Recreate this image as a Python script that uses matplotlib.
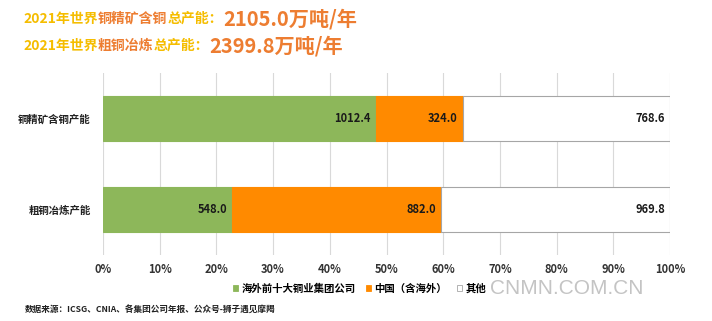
import numpy as np
import matplotlib.pyplot as plt
from matplotlib.patches import Patch

plt.rcParams['font.family'] = ['Noto Sans CJK SC', 'DejaVu Sans']

# dados
categorias = ['铜精矿含铜产能', '粗铜冶炼产能']
series = ['海外前十大铜业集团公司', '中国（含海外）', '其他']
海外 = [1012.4, 548.0]
中国 = [324.0, 882.0]
其他 = [768.6, 969.8]
cores = ['#8DB75A', '#FF8A00', '#FFFFFF']
ticks_x = [0, 10, 20, 30, 40, 50, 60, 70, 80, 90, 100]

valores = np.array([海外, 中国, 其他])
totais = valores.sum(axis=0)
pct = valores / totais * 100

fig = plt.figure(figsize=(7.12, 3.21), dpi=100)
ax = fig.add_axes([0.1447, 0.2056, 0.7963, 0.567])

y = np.arange(len(categorias))
esquerda = np.zeros(len(categorias))
for i in range(len(series)):
    ax.barh(y, pct[i], left=esquerda, height=0.5, color=cores[i],
            edgecolor='#A6A6A6' if i == 2 else cores[i], linewidth=0.8, zorder=3)
    for j in range(len(categorias)):
        ax.text(esquerda[j] + pct[i][j] - 0.9, y[j], f'{valores[i][j]:.1f}',
                ha='right', va='center', fontsize=8, fontweight='bold',
                color='#1A1A1A', zorder=4)
    esquerda += pct[i]

ax.set_xlim(0, 100)
ax.set_ylim(1.5, -0.5)
ax.set_xticks(ticks_x)
ax.set_xticklabels([f'{t}%' for t in ticks_x], fontsize=8, fontweight='bold', color='#333333')
ax.set_yticks(y)
ax.set_yticklabels(categorias, fontsize=7.5, fontweight='bold', color='#222222')
ax.tick_params(length=0, pad=9)
ax.tick_params(axis='x', pad=6)
ax.grid(axis='x', color='#D9D9D9', linewidth=0.8, zorder=0)
for s in ax.spines.values():
    s.set_visible(False)

handles = [Patch(facecolor=cores[i], edgecolor='#A6A6A6' if i == 2 else cores[i], linewidth=0.6)
           for i in range(3)]
leg = fig.legend(handles, series, loc='center', bbox_to_anchor=(0.505, 0.1), ncol=3,
                 frameon=False, handlelength=0.5, handleheight=0.5, handletextpad=0.3,
                 columnspacing=1.0, prop={'size': 7.5, 'weight': 'bold'})

fig.text(0.688, 0.1, 'CNMN.COM.CN', fontsize=15, color='#C4C4C4',
         ha='left', va='center', family='Liberation Sans')

fig.text(0.035, 0.035, '数据来源：ICSG、CNIA、各集团公司年报、公众号-狮子遇见摩羯',
         fontsize=6.2, fontweight='bold', color='#222222', va='center')

# titulo em varias cores
amarelo = '#F5BD00'
laranja = '#ED7D31'
linhas = [
    [('2021年世界', amarelo, 10), ('铜精矿含铜', laranja, 10), ('总产能：', amarelo, 10),
     ('2105.0万吨/年', laranja, 14.5)],
    [('2021年世界', amarelo, 10), ('粗铜冶炼', laranja, 10), ('总产能：', amarelo, 10),
     ('2399.8万吨/年', laranja, 14.5)],
]
renderer = fig.canvas.get_renderer()
for k, partes in enumerate(linhas):
    x = 0.033
    ypos = 0.942 - k * 0.085
    for txt, cor, tam in partes:
        t = fig.text(x, ypos, txt, fontsize=tam, fontweight='bold', color=cor,
                     ha='left', va='center')
        bb = t.get_window_extent(renderer=renderer)
        x += bb.width / fig.bbox.width

fig.savefig('out.png', dpi=100)
